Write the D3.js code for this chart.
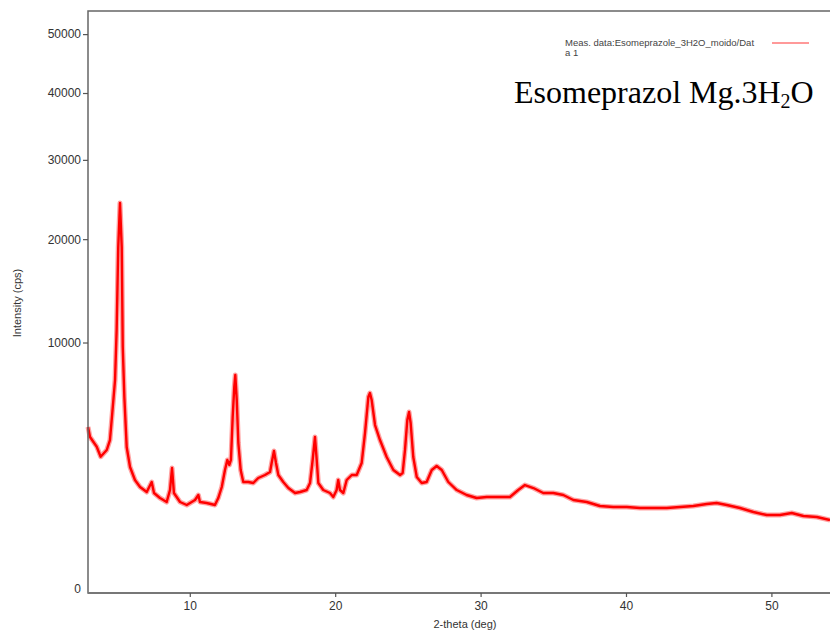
<!DOCTYPE html>
<html>
<head>
<meta charset="utf-8">
<script src="https://cdn.jsdelivr.net/npm/d3@7"></script>
<style>
  body { margin: 0; background: #fff; }
  svg { display: block; }
  .tick text { font-family: "Liberation Sans", Arial, sans-serif; font-size: 12px; fill: #333; }
</style>
</head>
<body>
<svg width="830" height="634"></svg>
<script>
const [WIDTH, HEIGHT] = [830, 634];
const PLOT = { left: 88, top: 11, right: 832, bottom: 593 };

// 2-theta positions (deg)
const twoTheta = [
  3.00, 3.14, 3.60, 3.87, 4.29, 4.51, 4.67, 4.86, 4.97, 5.08, 5.20, 5.32, 5.39, 5.50, 5.66,
  5.89, 6.23, 6.58, 7.04, 7.38, 7.54, 7.95, 8.41, 8.64, 8.78, 8.91, 9.33, 9.79, 10.36, 10.59,
  10.70, 11.16, 11.73, 11.96, 12.20, 12.42, 12.58, 12.72, 12.83, 12.95, 13.06, 13.13, 13.23, 13.34, 13.50,
  13.68, 14.02, 14.37, 14.71, 15.17, 15.52, 15.63, 15.79, 15.93, 16.09, 16.43, 16.78, 17.24, 17.58, 18.04,
  18.27, 18.45, 18.61, 18.73, 18.84, 19.18, 19.64, 19.87, 20.10, 20.21, 20.33, 20.56, 20.79, 21.14, 21.48,
  21.82, 22.05, 22.28, 22.39, 22.51, 22.74, 23.08, 23.54, 24.00, 24.46, 24.64, 24.80, 24.96, 25.08, 25.19,
  25.37, 25.61, 25.95, 26.29, 26.64, 26.98, 27.33, 27.78, 28.36, 29.04, 29.73, 30.42, 31.22, 32.02, 32.59,
  33.05, 33.63, 34.31, 35.00, 35.69, 36.38, 37.30, 38.21, 39.13, 40.05, 40.96, 41.88, 42.80, 43.72, 44.63,
  45.55, 46.23, 46.93, 47.84, 48.76, 49.68, 50.59, 51.40, 52.20, 53.12, 54.03
];

// measured intensity (cps) at those positions
const intensity = [
  4373, 3859, 3392, 2941, 3239, 3711, 5147, 7220, 11027, 19121, 24309, 19121, 9643, 6109, 3378,
  2510, 2015, 1771, 1606, 1944, 1574, 1419, 1301, 1671, 2470, 1574, 1301, 1216, 1360, 1511,
  1301, 1272, 1216, 1419, 1771, 2391, 2799, 2591, 2799, 4920, 6751, 7564, 5922, 3566, 2391,
  1944, 1944, 1909, 2088, 2199, 2313, 2673, 3194, 2673, 2199, 1944, 1737, 1574, 1606, 1671,
  1909, 2799, 3859, 2799, 1909, 1671, 1574, 1450, 1671, 2015, 1671, 1574, 2015, 2199, 2199,
  2673, 4061, 6109, 6362, 5922, 4480, 3711, 2928, 2391, 2199, 2275, 3239, 4753, 5205, 4588,
  2928, 2125, 1909, 1944, 2391, 2550, 2391, 1944, 1671, 1511, 1419, 1450, 1450, 1450, 1671,
  1839, 1737, 1574, 1574, 1511, 1360, 1301, 1188, 1161, 1161, 1134, 1134, 1134, 1161, 1188,
  1244, 1272, 1216, 1134, 1028, 952, 952, 1003, 928, 904, 833
];

const yTicks = [0, 10000, 20000, 30000, 40000, 50000];
const xTicks = [10, 20, 30, 40, 50];

const legendLines = ["Meas. data:Esomeprazole_3H2O_moido/Dat", "a 1"];

const svg = d3.select("svg")
  .attr("viewBox", `0 0 ${WIDTH} ${HEIGHT}`);

const x = d3.scaleLinear().domain([3, 54.03]).range([PLOT.left, 830]);
const y = d3.scaleSqrt().domain([0, 54230]).range([592, PLOT.top]);

const points = twoTheta.map((t, i) => ({ t, v: intensity[i] }));

const line = d3.line()
  .x((d) => x(d.t))
  .y((d) => y(d.v));

// soft band standing in for the counting noise
svg.append("path")
  .datum(points)
  .attr("d", line)
  .attr("fill", "none")
  .attr("stroke", "#ff1a1a")
  .attr("stroke-opacity", 0.4)
  .attr("stroke-width", 5)
  .attr("stroke-linejoin", "round");

svg.append("path")
  .datum(points)
  .attr("d", line)
  .attr("fill", "none")
  .attr("stroke", "#ff0000")
  .attr("stroke-width", 2.4)
  .attr("stroke-linejoin", "round");

// frame
svg.append("rect")
  .attr("x", PLOT.left)
  .attr("y", PLOT.top)
  .attr("width", PLOT.right - PLOT.left)
  .attr("height", PLOT.bottom - PLOT.top)
  .attr("fill", "none")
  .attr("stroke", "#666")
  .attr("stroke-width", 1.5);

svg.append("line")
  .attr("x1", PLOT.left).attr("x2", PLOT.right)
  .attr("y1", PLOT.bottom).attr("y2", PLOT.bottom)
  .attr("stroke", "#777")
  .attr("stroke-width", 2.2);

// axes
const yAxis = svg.append("g")
  .attr("transform", `translate(${PLOT.left},0)`)
  .call(d3.axisLeft(y).tickValues(yTicks).tickSize(5).tickPadding(2).tickFormat(d3.format("d")));
yAxis.select(".domain").remove();
yAxis.selectAll(".tick line").attr("stroke", "#555").attr("stroke-width", 1.2);
yAxis.selectAll(".tick").filter((d) => d === 0).select("line").remove();
yAxis.selectAll(".tick").filter((d) => d === 0).select("text").attr("dy", "0.05em");

const xAxis = svg.append("g")
  .attr("transform", `translate(0,${PLOT.bottom})`)
  .call(d3.axisBottom(x).tickValues(xTicks).tickSize(4).tickPadding(4));
xAxis.select(".domain").remove();
xAxis.selectAll(".tick line").attr("stroke", "#555").attr("stroke-width", 1.2);

// axis titles
svg.append("text")
  .attr("x", 465)
  .attr("y", 628)
  .attr("text-anchor", "middle")
  .attr("font-family", "Liberation Sans, Arial, sans-serif")
  .attr("font-size", 11)
  .attr("fill", "#333")
  .text("2-theta (deg)");

svg.append("text")
  .attr("transform", "translate(21,303) rotate(-90)")
  .attr("text-anchor", "middle")
  .attr("font-family", "Liberation Sans, Arial, sans-serif")
  .attr("font-size", 11)
  .attr("fill", "#333")
  .text("Intensity (cps)");

// legend
svg.selectAll(".legend-text")
  .data(legendLines)
  .enter()
  .append("text")
  .classed("legend-text", true)
  .attr("x", 565)
  .attr("y", (d, i) => 46 + i * 10)
  .attr("font-family", "Liberation Sans, Arial, sans-serif")
  .attr("font-size", 9.5)
  .attr("fill", "#444")
  .text((d) => d);

svg.append("line")
  .attr("x1", 772).attr("x2", 809)
  .attr("y1", 43).attr("y2", 43)
  .attr("stroke", "#f77")
  .attr("stroke-width", 1.5);

// sample title
const title = svg.append("text")
  .attr("x", 514)
  .attr("y", 103)
  .attr("font-family", "Liberation Serif, Times New Roman, serif")
  .attr("font-size", 32)
  .attr("fill", "#000");
title.append("tspan").text("Esomeprazol Mg.3H");
title.append("tspan").attr("font-size", 20).attr("dy", 5).text("2");
title.append("tspan").attr("dy", -5).text("O");
</script>
</body>
</html>
